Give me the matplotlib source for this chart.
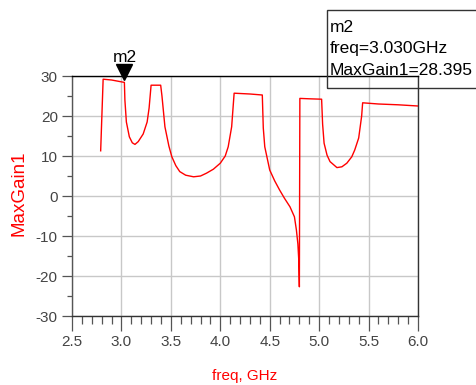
import matplotlib
matplotlib.use('Agg')
import matplotlib.pyplot as plt
from matplotlib.ticker import MultipleLocator

plt.rcParams['axes.unicode_minus'] = False

# traced MaxGain1 curve
freq = [2.79, 2.815, 2.90, 3.03, 3.035, 3.05, 3.08, 3.11, 3.137, 3.17, 3.22, 3.26, 3.28, 3.30,
        3.397, 3.41, 3.44, 3.48, 3.51, 3.55, 3.59, 3.65, 3.73, 3.80, 3.86, 3.93, 4.00, 4.05,
        4.08, 4.115, 4.14, 4.30, 4.425, 4.435, 4.45, 4.50, 4.55, 4.60, 4.65, 4.705, 4.75,
        4.77, 4.785, 4.795, 4.80, 4.805, 4.90, 5.025, 5.035, 5.05, 5.08, 5.11, 5.18, 5.23,
        5.28, 5.33, 5.36, 5.40, 5.43, 5.44, 5.60, 5.80, 6.0]
gain = [11.3, 29.2, 29.0, 28.4, 24.0, 18.5, 14.8, 13.3, 12.9, 13.6, 15.5, 18.5, 22.0, 27.7,
        27.7, 25.0, 17.3, 12.5, 9.8, 7.6, 6.1, 5.2, 4.8, 5.0, 5.7, 6.7, 8.2, 10.0,
        12.3, 17.3, 25.7, 25.5, 25.25, 17.0, 12.3, 6.5, 3.8, 1.5, -0.6, -2.7, -5.2,
        -8.5, -12.0, -16.5, -22.7, 24.4, 24.3, 24.2, 18.0, 13.2, 10.2, 8.6, 7.1, 7.3,
        8.2, 9.8, 11.5, 14.5, 20.0, 23.3, 23.0, 22.8, 22.5]

marker_f = 3.030
marker_g = 28.395
marker_name = 'm2'
readout = [marker_name, f'freq={marker_f:.3f}GHz', f'MaxGain1={marker_g:.3f}']

tick_grey = '#555555'
W, H = 476, 385

fig = plt.figure(figsize=(W / 100, H / 100), dpi=100)
ax = fig.add_axes([72 / W, 1 - 316 / H, 346 / W, 240 / H])

ax.plot(freq, gain, color='red', lw=1.0, zorder=3)

ax.set_xlim(2.5, 6.0)
ax.set_ylim(-30, 30)
ax.xaxis.set_major_locator(MultipleLocator(0.5))
ax.xaxis.set_minor_locator(MultipleLocator(0.1))
ax.yaxis.set_major_locator(MultipleLocator(10))
ax.yaxis.set_minor_locator(MultipleLocator(5))
ax.set_xticklabels([f'{v:.1f}' for v in ax.get_xticks()])

ax.grid(True, which='major', color='#c8c8c8', lw=1.0)
ax.set_axisbelow(True)

# tick lengths in points (px * 0.72)
ax.tick_params(axis='x', which='major', length=10.8, width=0.9, color=tick_grey,
               labelsize=11, labelcolor='#444444', pad=3)
ax.tick_params(axis='x', which='minor', length=5.8, width=0.9, color=tick_grey)
ax.tick_params(axis='y', which='major', length=7.2, width=0.9, color=tick_grey,
               labelsize=11, labelcolor='#444444', pad=3)
ax.tick_params(axis='y', which='minor', length=3.6, width=0.9, color=tick_grey)
for lab in ax.get_xticklabels() + ax.get_yticklabels():
    lab.set_family(['Liberation Sans Narrow', 'Liberation Sans'])

ax.spines['left'].set_color(tick_grey)
ax.spines['bottom'].set_color('#333333')
ax.spines['top'].set_color('black')
ax.spines['right'].set_color('#333333')
for s in ax.spines.values():
    s.set_linewidth(1.0)

fig.text(245 / W, 1 - 376 / H, 'freq, GHz', color='red', fontsize=11,
         family='Liberation Sans', ha='center', va='center')
fig.text(19 / W, 1 - 193 / H, 'MaxGain1', color='red', fontsize=13.5,
         family='Liberation Sans', rotation=90, ha='center', va='center')

# marker triangle and its name
ax.plot([marker_f], [marker_g + 2.5], marker='v', color='black', markersize=11,
        clip_on=False, zorder=5)
ax.annotate(marker_name, xy=(marker_f, marker_g), xytext=(0, 15), textcoords='offset points',
            ha='center', va='baseline', fontsize=12.5, family='Liberation Sans')

# readout box
for i, line in enumerate(readout):
    fig.text(330 / W, 1 - (32 + 21.5 * i) / H, line, ha='left', va='baseline',
             fontsize=12.5, family='Liberation Sans')
fig.patches.append(plt.Rectangle((327 / W, 1 - 88 / H), 160 / W, 78 / H,
                                 transform=fig.transFigure, fill=False,
                                 edgecolor='#333333', lw=1.0))

fig.savefig('out.png', dpi=100)
